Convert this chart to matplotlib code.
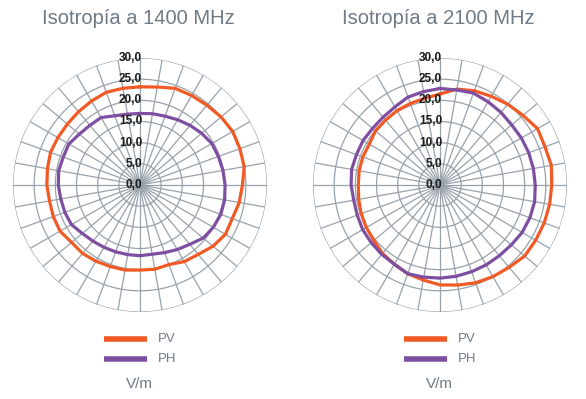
import numpy as np
import matplotlib
matplotlib.use("Agg")
import matplotlib.pyplot as plt
import matplotlib.transforms as mtransforms

angles_deg = list(range(0, 360, 10))

pv_1400 = [23.2, 23.5, 24.3, 24.4, 24.6, 25.0, 25.3, 25.1, 25.0, 24.2, 23.8, 23.2,
           23.3, 22.5, 21.4, 20.9, 20.0, 20.2, 20.1, 20.4, 20.5, 20.8, 21.1, 21.1,
           21.8, 21.8, 21.7, 22.0, 22.2, 22.5, 22.4, 22.4, 22.6, 22.9, 23.3, 23.2]
ph_1400 = [16.9, 17.1, 17.3, 17.8, 18.4, 19.0, 19.6, 19.7, 19.9, 20.1, 20.3, 20.3,
           20.0, 19.5, 18.3, 17.6, 17.0, 16.6, 16.7, 16.7, 16.8, 17.0, 17.3, 17.8,
           18.7, 18.9, 19.0, 19.3, 19.5, 19.3, 19.4, 18.7, 18.4, 18.4, 17.4, 17.0]
pv_2100 = [21.5, 23.0, 23.7, 24.2, 24.9, 25.6, 26.6, 26.4, 26.7, 26.4, 26.3, 26.2,
           26.1, 26.1, 25.4, 25.0, 24.6, 24.0, 23.6, 22.8, 22.3, 21.6, 21.1, 20.4,
           20.1, 19.8, 19.5, 19.3, 19.4, 19.4, 19.3, 19.9, 20.0, 20.3, 20.5, 20.8]
ph_2100 = [22.8, 22.8, 23.1, 22.7, 22.4, 22.1, 22.2, 22.3, 22.4, 22.5, 22.7, 22.6,
           22.4, 22.0, 21.8, 21.8, 21.8, 21.9, 22.0, 22.1, 22.3, 21.6, 21.4, 21.2,
           21.1, 20.8, 20.7, 21.0, 21.2, 21.0, 21.0, 20.8, 20.9, 21.3, 22.1, 22.4]

titles = ["Isotropía a 1400 MHz", "Isotropía a 2100 MHz"]
ring_values = [5, 10, 15, 20, 25, 30]
ring_labels = ["0,0", "5,0", "10,0", "15,0", "20,0", "25,0", "30,0"]
series_names = ["PV", "PH"]
unit_label = "V/m"

PV_COLOR = "#F15A24"
PH_COLOR = "#7E4FA1"
GRID_COLOR = "#98A2AB"
TEXT_GRAY = "#6E7A85"

W, H = 586, 399
fig = plt.figure(figsize=(W / 100, H / 100), dpi=100)

centers = [(140, 185), (440, 185)]
R = 127
datasets = [(pv_1400, ph_1400), (pv_2100, ph_2100)]

for (cx, cy), (pv, ph), title in zip(centers, datasets, titles):
    ax = fig.add_axes([(cx - R) / W, 1 - (cy + R) / H, 2 * R / W, 2 * R / H],
                      projection="polar")
    ax.set_theta_zero_location("N")
    ax.set_theta_direction(-1)
    ax.set_ylim(0, 30)
    ax.grid(False)
    ax.spines["polar"].set_visible(False)
    ax.set_xticks([])
    ax.set_yticks([])
    ax.patch.set_alpha(0)

    tt = np.linspace(0, 2 * np.pi, 361)
    for r in ring_values:
        ax.plot(tt, np.full_like(tt, r), color=GRID_COLOR, lw=0.9, zorder=1)
    for a in range(0, 360, 10):
        ax.plot([np.deg2rad(a)] * 2, [0, 30], color=GRID_COLOR, lw=0.9, zorder=1)

    th = np.deg2rad(angles_deg + [angles_deg[0]])
    ax.plot(th, list(pv) + [pv[0]], color=PV_COLOR, lw=2.3, zorder=3)
    ax.plot(th, list(ph) + [ph[0]], color=PH_COLOR, lw=2.3, zorder=3)

    tr = mtransforms.offset_copy(ax.transData, fig=fig, x=2, y=0, units="dots")
    for i, lab in enumerate(ring_labels):
        ax.text(0, i * 5, lab, transform=tr, ha="right", va="center",
                fontsize=8.5, family="Liberation Sans", fontweight="bold",
                color="#1a1a1a", zorder=5)

    fig.text((cx - 2) / W, 1 - 19 / H, title, ha="center", va="center",
             fontsize=14.5, color=TEXT_GRAY, family="Liberation Sans")

    # legend
    for k, (name, col) in enumerate(zip(series_names, [PV_COLOR, PH_COLOR])):
        y = 339 + 20 * k
        fig.add_artist(plt.Line2D([(cx - 36) / W, (cx + 7) / W],
                                  [1 - y / H, 1 - y / H], color=col, lw=4.0,
                                  solid_capstyle="butt"))
        fig.text((cx + 18) / W, 1 - y / H, name, ha="left", va="center",
                 fontsize=9.5, color=TEXT_GRAY, family="Liberation Sans")
    fig.text((cx - 1) / W, 1 - 384 / H, unit_label, ha="center", va="center",
             fontsize=11, color=TEXT_GRAY, family="Liberation Sans")

fig.savefig("out.png", dpi=100)
